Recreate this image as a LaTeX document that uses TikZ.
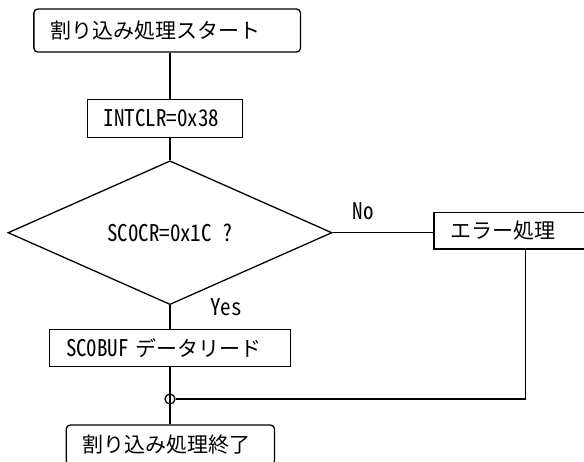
\documentclass[tikz,border=0pt]{standalone}
\usepackage{fontspec}
\setmainfont{Noto Sans CJK JP}
\newfontfamily\hwfamily[CharacterWidth=Half, FakeStretch=0.913]{Noto Sans CJK JP}
\newcommand\hw{\fontsize{23}{25}\selectfont\hwfamily}
\usetikzlibrary{shapes.geometric}

\begin{document}
\begin{tikzpicture}[x=1pt, y=-1pt, line width=1.3pt,
    box/.style={draw, rectangle, inner xsep=16.5pt, inner ysep=0pt, align=left, font=\fontsize{21}{25}\selectfont},
    term/.style={box, rounded corners=4pt},
    tag/.style={font=\hw}]
  \useasboundingbox (0,0) rectangle (584,461);
  \node[term, text width=233.7pt, minimum height=43pt] (start) at (167.2, 30.5) {割り込み処理スタート};
  \node[box, text width=122pt, minimum height=38pt] (intclr) at (164.8, 118.3) {{\hw INTCLR=0x38}};
  \node[draw, diamond, inner sep=0pt, minimum width=324pt, minimum height=96pt, font=\hw] (dec) at (170, 232.7) {SC0CR=0x1C ?};
  \node[box, text width=137pt, minimum height=36.7pt] (err) at (519, 230.65) {エラー処理};
  \node[box, text width=208pt, minimum height=37.4pt] (sbuf) at (170, 348) {{\hw SC0BUF }データリード};
  \node[circle, draw, inner sep=0pt, minimum size=10pt] (join) at (170, 399) {};
  \node[term, text width=175.2pt, minimum height=40pt] (stop) at (170.4, 445) {割り込み処理終了};
  \coordinate (turn) at (525.3, 399);
  % main column
  \draw (start.south -| dec.north) -- (intclr.north -| dec.north);
  \draw (intclr.south -| dec.north) -- (dec.north);
  \draw (dec.south) -- (sbuf.north -| dec.south);
  \draw (sbuf.south -| join) -- (join.center) -- (stop.north -| join);
  % error branch
  \draw (dec.east) -- (dec.east -| err.west);
  \draw (err.south -| turn) -- (turn) -- (join.east);
  \node[tag] (no) at (363, 211) {No};
  \node[tag] (yes) at (226, 307.5) {Yes};
\end{tikzpicture}
\end{document}
